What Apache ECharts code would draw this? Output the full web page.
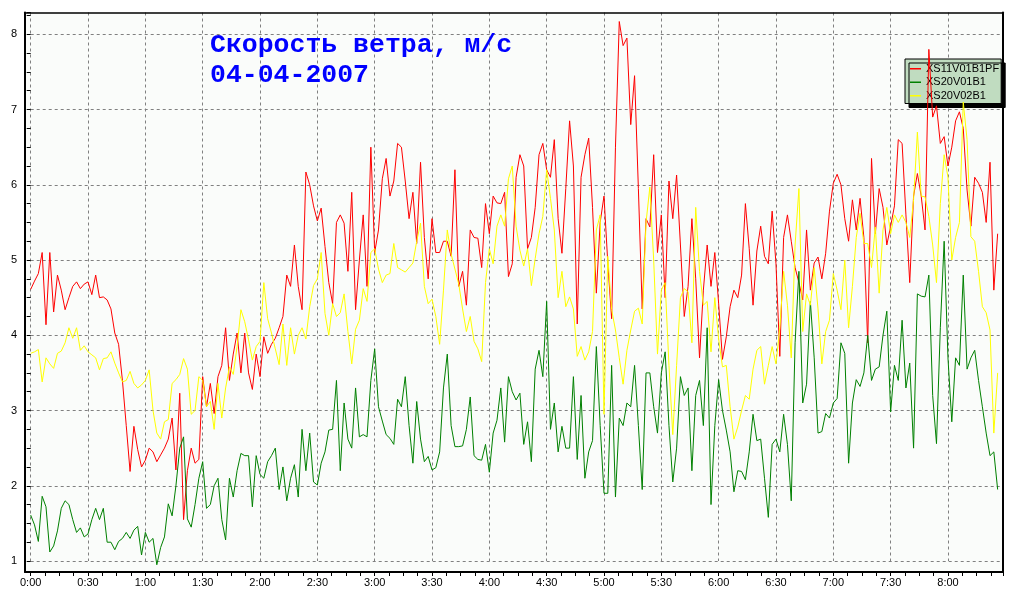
<!DOCTYPE html>
<html>
<head>
<meta charset="utf-8">
<script src="https://cdn.jsdelivr.net/npm/echarts@6/dist/echarts.min.js"></script>
<style>
    html, body { margin: 0; padding: 0; background: #ffffff; }
    #container { width: 1012px; height: 603px; }
</style>
</head>
<body>
<div id="container"></div>
<script type="text/javascript">
    // wind speed, one value every 2 minutes from 0:00
    var stepMin = 2;
    var seriesNames = ['XS11V01B1PF', 'XS20V01B1', 'XS20V02B1'];
    var titleLines = ['Скорость ветра, м/с', '04-04-2007'];

    var redWind = [
        4.61, 4.72, 4.82, 5.10, 4.14, 5.10, 4.31, 4.80, 4.60, 4.34,
        4.50, 4.65, 4.71, 4.62, 4.68, 4.71, 4.54, 4.80, 4.50, 4.51,
        4.47, 4.35, 4.03, 3.88, 3.40, 2.80, 2.19, 2.79, 2.48, 2.25,
        2.34, 2.50, 2.45, 2.32, 2.41, 2.50, 2.62, 2.90, 2.21, 3.23,
        1.55, 2.20, 2.50, 2.30, 2.35, 3.45, 3.05, 3.36, 2.96, 3.45,
        3.60, 4.10, 3.40, 3.75, 4.03, 3.50, 4.03, 3.50, 3.28, 3.75,
        3.45, 3.98, 3.76, 3.88, 3.96, 4.10, 4.25, 4.80, 4.65, 5.20,
        4.65, 4.34, 6.17, 6.00, 5.72, 5.52, 5.69, 5.18, 4.70, 4.42,
        5.50, 5.60, 5.49, 4.85, 5.90, 4.34, 5.00, 5.60, 4.65, 6.50,
        5.10, 5.40, 6.08, 6.35, 5.85, 6.05, 6.55, 6.50, 6.05, 5.55,
        5.90, 5.22, 6.30, 5.30, 4.75, 5.55, 5.10, 5.10, 5.25, 5.25,
        5.05, 6.20, 4.65, 4.85, 4.40, 5.40, 5.30, 5.29, 4.90, 5.75,
        5.35, 5.85, 5.76, 5.75, 5.90, 4.78, 4.95, 6.10, 6.40, 6.25,
        5.15, 5.30, 5.70, 6.40, 6.55, 6.20, 6.10, 6.60, 5.55, 5.09,
        5.95, 6.85, 6.25, 4.15, 6.10, 6.40, 6.62, 5.70, 4.56, 5.50,
        5.85, 4.96, 4.22, 6.50, 8.17, 7.85, 7.95, 6.80, 7.45, 5.95,
        4.35, 5.55, 5.44, 6.40, 5.10, 5.60, 4.50, 6.05, 5.55, 6.13,
        5.20, 4.25, 4.65, 5.55, 4.75, 3.70, 4.60, 5.20, 4.65, 5.10,
        4.42, 3.68, 3.98, 4.38, 4.60, 4.50, 4.80, 5.75, 5.15, 4.40,
        5.12, 5.45, 5.05, 4.95, 5.65, 4.95, 3.72, 5.30, 5.60, 5.25,
        4.90, 4.70, 4.47, 5.40, 4.60, 4.96, 5.04, 4.75, 5.09, 5.65,
        6.02, 6.14, 6.00, 5.55, 5.25, 5.80, 5.40, 5.82, 5.30, 3.90,
        6.35, 5.35, 5.95, 5.70, 5.20, 5.45, 5.72, 6.60, 6.55, 5.60,
        4.70, 5.85, 6.15, 5.85, 5.40, 7.80, 6.90, 7.05, 6.55, 6.64,
        6.25, 6.50, 6.85, 6.97, 6.75, 5.93, 5.45, 6.10, 6.02, 5.90,
        5.50, 6.30, 4.60, 5.35
    ];

    var greenWind = [
        1.61, 1.48, 1.26, 1.86, 1.72, 1.12, 1.20, 1.40, 1.70, 1.80,
        1.75, 1.55, 1.38, 1.44, 1.32, 1.36, 1.55, 1.70, 1.55, 1.70,
        1.25, 1.25, 1.15, 1.26, 1.30, 1.38, 1.30, 1.41, 1.46, 1.08,
        1.38, 1.25, 1.30, 0.95, 1.18, 1.32, 1.76, 1.60, 2.00, 2.50,
        2.65, 1.56, 1.45, 1.75, 2.10, 2.32, 1.70, 1.75, 2.00, 2.10,
        1.55, 1.28, 2.10, 1.85, 2.20, 2.43, 2.40, 2.40, 1.72, 2.40,
        2.15, 2.10, 2.32, 2.40, 2.50, 1.95, 2.25, 1.80, 2.10, 2.28,
        1.85, 2.75, 2.20, 2.70, 2.05, 2.01, 2.30, 2.45, 2.74, 2.75,
        3.40, 2.20, 3.10, 2.62, 2.50, 3.30, 2.65, 2.68, 2.65, 3.40,
        3.82, 3.05, 2.86, 2.68, 2.63, 2.55, 3.15, 3.05, 3.45, 2.80,
        2.30, 3.12, 2.62, 2.32, 2.39, 2.21, 2.24, 2.45, 3.30, 3.75,
        2.80, 2.52, 2.52, 2.53, 2.75, 3.18, 2.40, 2.35, 2.34, 2.55,
        2.18, 2.70, 2.87, 3.30, 2.58, 3.45, 3.25, 3.14, 3.23, 2.55,
        2.85, 2.32, 3.55, 3.80, 3.45, 4.45, 2.75, 3.10, 2.45, 2.79,
        2.50, 2.50, 3.45, 2.35, 3.20, 2.10, 2.45, 2.60, 3.85, 2.80,
        1.90, 1.90, 3.60, 1.85, 2.90, 2.80, 3.10, 3.05, 3.60, 2.80,
        1.95, 3.50, 3.50, 3.05, 2.70, 3.50, 3.78, 2.80, 2.05, 2.50,
        3.45, 3.20, 3.30, 2.20, 3.20, 3.40, 2.80, 4.10, 1.75, 2.80,
        3.41, 3.00, 2.74, 2.45, 1.92, 2.20, 2.19, 2.08, 2.45, 2.95,
        2.60, 2.62, 2.10, 1.58, 2.55, 2.62, 2.45, 2.95, 2.55, 1.80,
        3.90, 4.85, 3.10, 3.35, 4.45, 3.70, 2.70, 2.72, 2.96, 2.90,
        3.10, 3.16, 3.90, 3.76, 2.30, 3.10, 3.41, 3.32, 3.50, 4.00,
        3.40, 3.55, 3.58, 4.00, 4.32, 2.98, 3.60, 3.40, 4.20, 3.30,
        3.63, 2.50, 4.55, 4.52, 4.51, 4.80, 3.20, 2.56, 4.10, 5.25,
        3.70, 2.85, 3.70, 3.60, 4.80, 3.55, 3.70, 3.80, 3.40, 3.05,
        2.70, 2.40, 2.45, 1.95
    ];

    var yellowWind = [
        3.76, 3.78, 3.81, 3.38, 3.70, 3.62, 3.56, 3.76, 3.79, 3.90,
        4.10, 3.96, 4.10, 3.80, 3.86, 3.78, 3.74, 3.70, 3.54, 3.69,
        3.70, 3.78, 3.63, 3.50, 3.38, 3.40, 3.52, 3.36, 3.30, 3.34,
        3.40, 3.54, 3.00, 2.70, 2.62, 2.85, 2.88, 3.36, 3.41, 3.48,
        3.69, 3.55, 2.95, 3.00, 3.45, 3.40, 3.05, 3.12, 2.75, 3.36,
        2.90, 3.30, 3.58, 3.48, 3.85, 4.34, 4.18, 3.94, 3.67, 3.85,
        3.92, 4.70, 4.22, 4.03, 3.82, 3.61, 4.15, 3.60, 4.10, 3.75,
        4.00, 4.10, 3.95, 4.38, 4.66, 4.75, 5.10, 4.29, 4.00, 4.42,
        4.25, 4.30, 4.55, 4.05, 3.62, 4.08, 4.20, 4.62, 4.45, 5.10,
        5.15, 4.88, 4.70, 4.80, 4.82, 5.22, 4.90, 4.87, 4.84, 4.90,
        4.96, 5.25, 5.49, 4.65, 4.42, 4.48, 4.25, 3.88, 4.60, 5.40,
        5.08, 4.88, 4.68, 4.35, 4.05, 4.25, 3.92, 3.82, 3.65, 4.70,
        5.15, 4.95, 5.45, 5.60, 5.45, 6.08, 6.25, 5.45, 5.13, 4.92,
        5.15, 4.66, 5.02, 5.35, 5.58, 6.20, 5.82, 5.40, 4.50, 4.85,
        4.38, 4.51, 4.35, 3.72, 3.85, 3.67, 3.78, 4.05, 5.40, 5.60,
        2.95, 5.05, 4.34, 4.07, 3.70, 3.35, 3.80, 4.07, 4.32, 4.36,
        4.15, 5.50, 5.97, 5.00, 3.75, 4.60, 4.70, 3.60, 2.68, 3.60,
        4.50, 4.62, 4.58, 3.90, 5.70, 4.85, 4.40, 4.45, 3.78, 4.50,
        3.95, 3.58, 3.60, 3.05, 2.62, 2.78, 3.00, 3.20, 3.15, 3.55,
        3.80, 3.85, 3.35, 3.60, 3.85, 3.62, 4.10, 4.85, 4.40, 3.70,
        5.20, 5.95, 4.05, 4.55, 4.40, 4.90, 4.35, 3.62, 4.05, 4.20,
        4.82, 4.60, 4.34, 5.00, 4.10, 4.65, 5.30, 5.62, 5.22, 5.22,
        4.90, 5.44, 4.56, 5.40, 5.70, 5.35, 5.60, 5.50, 5.60, 5.50,
        5.30, 5.80, 6.70, 5.85, 5.84, 5.58, 5.20, 4.70, 5.75, 6.40,
        6.10, 5.00, 5.30, 5.50, 7.10, 6.60, 5.31, 5.25, 4.85, 4.38,
        4.30, 4.07, 2.70, 3.50
    ];

    var labelFont = 'Liberation Sans';

    function toPairs(values) {
        var out = [];
        for (var i = 0; i < values.length; i++) {
            out.push([i * stepMin, values[i]]);
        }
        return out;
    }

    function timeLabel(v) {
        var h = Math.floor(v / 60);
        var m = Math.round(v - h * 60);
        return h + ':' + (m < 10 ? '0' : '') + m;
    }

    function windLine(name, color, values) {
        return {
            name: name,
            type: 'line',
            xAxisIndex: 0,
            yAxisIndex: 0,
            data: toPairs(values),
            symbol: 'none',
            showSymbol: false,
            clip: false,
            z: 3,
            lineStyle: {color: color, width: 1},
            itemStyle: {color: color}
        };
    }

    // plain frame axes, only their lines are drawn
    function frameAxis(position, width) {
        return {
            gridIndex: 1,
            type: 'value',
            position: position,
            min: 0,
            max: 1,
            axisLine: {show: true, onZero: false, lineStyle: {color: '#000000', width: width}},
            axisTick: {show: false},
            axisLabel: {show: false},
            splitLine: {show: false}
        };
    }

    var dom = document.getElementById("container");
    var myChart = echarts.init(dom, null, {renderer: 'canvas'});

    var option = {
        animation: false,
        backgroundColor: '#ffffff',
        title: {
            text: titleLines.join('\n'),
            left: 210,
            top: 31,
            padding: 0,
            textStyle: {
                fontFamily: 'Liberation Mono',
                fontWeight: 'bold',
                fontSize: 26.5,
                lineHeight: 29.5,
                color: '#0000ff'
            }
        },
        legend: {
            data: seriesNames,
            orient: 'vertical',
            left: 905,
            top: 59,
            z: 2,
            selectedMode: false,
            icon: 'rect',
            itemWidth: 11,
            itemHeight: 1.5,
            itemGap: 2,
            itemTextGap: 4,
            padding: [4, 2, 2, 5],
            backgroundColor: '#c0dcc0',
            borderColor: '#000000',
            borderWidth: 1,
            borderRadius: 0,
            shadowColor: '#000000',
            shadowBlur: 0,
            shadowOffsetX: 4,
            shadowOffsetY: 4,
            textStyle: {fontFamily: labelFont, fontSize: 11, lineHeight: 11.5, color: '#000000'}
        },
        grid: [
            {left: 30.7, right: 9, top: 12.5, bottom: 42, show: false},
            {left: 25, right: 9, top: 12.5, bottom: 31, show: true, backgroundColor: '#fafcfa', borderWidth: 0}
        ],
        xAxis: [
            {
                gridIndex: 0,
                type: 'value',
                min: 0,
                max: 508.8,
                interval: 30,
                offset: 11,
                axisLine: {show: false},
                axisTick: {show: true, inside: false, length: 4, lineStyle: {color: '#000000'}},
                minorTick: {show: true, splitNumber: 4, length: 4, lineStyle: {color: '#000000'}},
                axisLabel: {formatter: timeLabel, color: '#000000', fontFamily: labelFont, fontSize: 11, margin: 5, showMaxLabel: false},
                splitLine: {show: true, showMaxLine: false, lineStyle: {color: '#808080', type: [3, 3], width: 1}}
            },
            frameAxis('bottom', 2),
            frameAxis('top', 1.5)
        ],
        yAxis: [
            {
                gridIndex: 0,
                type: 'value',
                min: 1,
                max: 8.29,
                interval: 1,
                offset: 5.7,
                axisLine: {show: false},
                axisTick: {show: true, inside: false, length: 4, lineStyle: {color: '#000000'}},
                minorTick: {show: true, splitNumber: 4, length: 4, lineStyle: {color: '#000000'}},
                axisLabel: {color: '#000000', fontFamily: labelFont, fontSize: 11, margin: 8, showMaxLabel: false},
                splitLine: {show: true, showMaxLine: false, lineStyle: {color: '#808080', type: [3, 3], width: 1}}
            },
            frameAxis('left', 2),
            frameAxis('right', 2)
        ],
        series: [
            windLine(seriesNames[0], '#ff0000', redWind),
            windLine(seriesNames[1], '#008000', greenWind),
            windLine(seriesNames[2], '#ffff00', yellowWind)
        ]
    };

    if (option && typeof option === "object") {
        myChart.setOption(option, true);
    }
</script>
</body>
</html>
